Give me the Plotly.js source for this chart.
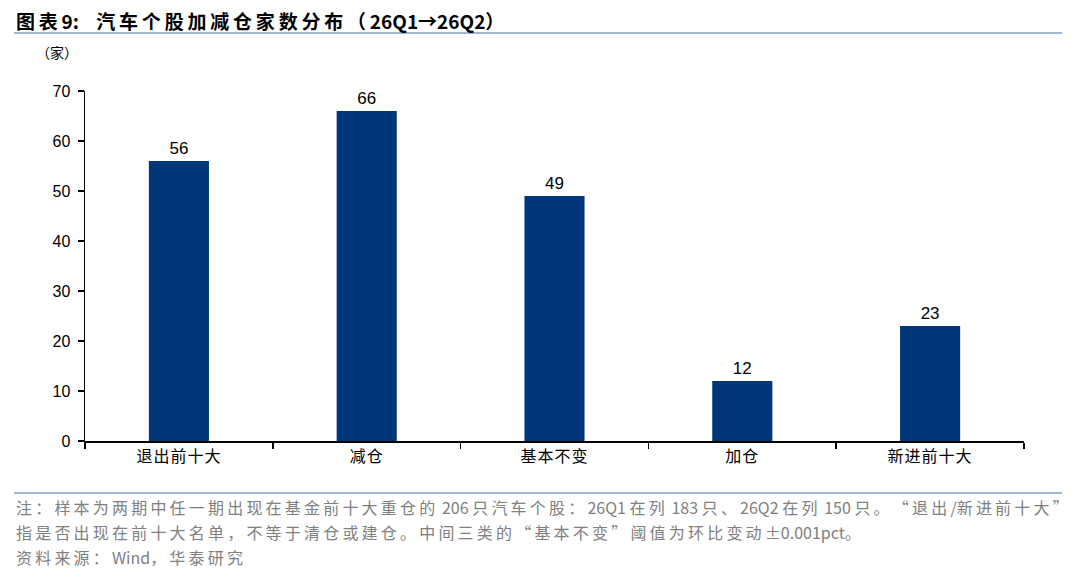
<!DOCTYPE html>
<html>
<head>
<meta charset="utf-8">
<script src="https://cdn.plot.ly/plotly-3.0.1.min.js"></script>
<style>
  html, body { margin: 0; padding: 0; background: #fff; }
  #chart { width: 1080px; height: 578px; }
</style>
</head>
<body>
<div id="chart"></div>
<script>
// 分类与数值
var categories = ['退出前十大', '减仓', '基本不变', '加仓', '新进前十大'];
var counts = [56, 66, 49, 12, 23];
var yTicks = [0, 10, 20, 30, 40, 50, 60, 70];

var W = 1080, H = 578;
var mL = 85, mR = 56, mT = 91, mB = 137;
var plotW = W - mL - mR, plotH = H - mT - mB;

// pixel -> paper helpers
function px(x) { return (x - mL) / plotW; }
function py(y) { return (H - mB - y) / plotH; }

// the source document sets CJK text with loose character spacing
function spaced(s, sp) {
    return s.replace(/([\u3000-\u303f\u4e00-\u9fff\uff00-\uffef\u201c\u201d])/g, '$1' + sp);
}

var cjk = '"Noto Sans CJK SC", "Liberation Sans", Arial, sans-serif';
var latin = '"Liberation Sans", Arial, "Noto Sans CJK SC", sans-serif';

var trace = {
    type: 'bar',
    x: categories.map(function(c) { return spaced(c, '\u200a'); }),
    y: counts,
    marker: { color: '#00377A' },
    text: counts.map(String),
    textposition: 'outside',
    textfont: { family: latin, size: 17, color: '#000' },
    cliponaxis: false,
    hoverinfo: 'none'
};

var notes = [
    '注：样本为两期中任一期出现在基金前十大重仓的 206 只汽车个股：26Q1 在列 183 只、26Q2 在列 150 只。“退出/新进前十大”',
    '指是否出现在前十大名单，不等于清仓或建仓。中间三类的“基本不变”阈值为环比变动±0.001pct。',
    '资料来源：Wind，华泰研究'
];

var annotations = [
    {
        text: '<b>' + spaced('图表9:    汽车个股加减仓家数分布（26Q1→26Q2）', '\u2009') + '</b>',
        xref: 'paper', yref: 'paper', x: px(14), y: py(20),
        xanchor: 'left', yanchor: 'middle', showarrow: false,
        font: { family: cjk, size: 19, color: '#000' }
    },
    {
        text: '（家）',
        xref: 'paper', yref: 'paper', x: px(34), y: py(52),
        xanchor: 'left', yanchor: 'middle', showarrow: false,
        font: { family: cjk, size: 14, color: '#000' }
    }
];
var noteY = [507, 532, 557];
notes.forEach(function(t, i) {
    annotations.push({
        text: spaced(t, '\u2009'),
        xref: 'paper', yref: 'paper', x: px(14), y: py(noteY[i]),
        xanchor: 'left', yanchor: 'middle', showarrow: false,
        font: { family: cjk, size: 16, color: '#808080' }
    });
});

var layout = {
    width: W, height: H,
    margin: { l: mL, r: mR, t: mT, b: mB, pad: 0 },
    paper_bgcolor: '#fff',
    plot_bgcolor: '#fff',
    showlegend: false,
    bargap: 0.68,
    xaxis: {
        type: 'category',
        showline: true, linecolor: '#000', linewidth: 1.5,
        ticks: 'outside', tickson: 'boundaries', ticklen: 6, tickcolor: '#000', tickwidth: 1.5,
        tickfont: { family: cjk, size: 16, color: '#000' },
        showgrid: false, zeroline: false,
        fixedrange: true
    },
    yaxis: {
        range: [0, 70],
        tickvals: yTicks,
        showline: true, linecolor: '#000', linewidth: 1.5,
        ticks: 'outside', ticklen: 6, tickcolor: '#000', tickwidth: 1.5,
        tickfont: { family: latin, size: 16, color: '#000' },
        ticklabelstandoff: 4,
        showgrid: false, zeroline: false,
        fixedrange: true
    },
    shapes: [
        {
            type: 'line', xref: 'paper', yref: 'paper',
            x0: px(14), x1: px(1062), y0: py(33), y1: py(33),
            line: { color: '#9FB5D2', width: 2 }
        },
        {
            type: 'line', xref: 'paper', yref: 'paper',
            x0: px(14), x1: px(1062), y0: py(493), y1: py(493),
            line: { color: '#9FB5D2', width: 2 }
        }
    ],
    annotations: annotations
};

Plotly.newPlot(document.getElementById('chart'), [trace], layout, { displayModeBar: false, staticPlot: true });
</script>
</body>
</html>
